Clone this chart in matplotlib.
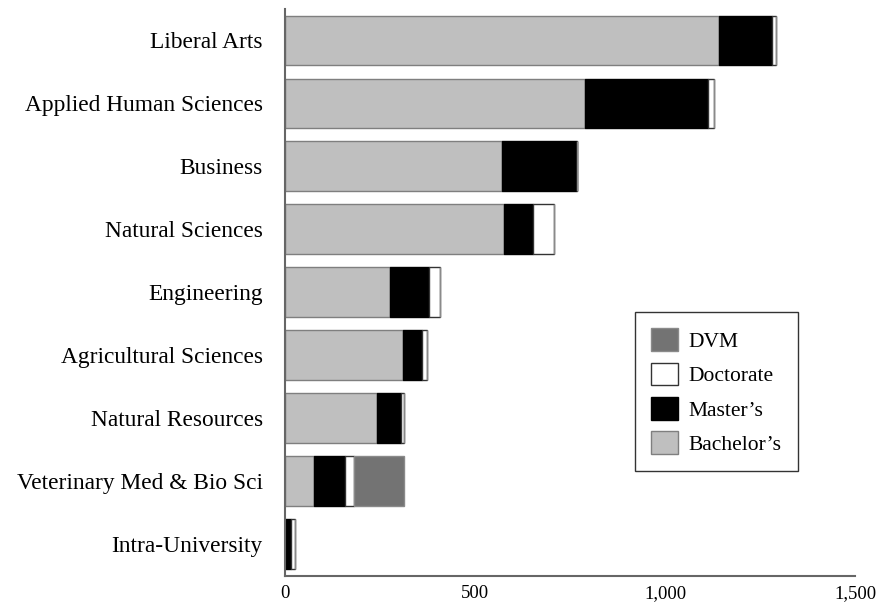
import matplotlib.pyplot as plt
import numpy as np
from matplotlib.ticker import FuncFormatter

plt.rcParams['font.family'] = ['Liberation Serif', 'DejaVu Serif']

colleges = ['Liberal Arts', 'Applied Human Sciences', 'Business', 'Natural Sciences',
            'Engineering', 'Agricultural Sciences', 'Natural Resources',
            'Veterinary Med & Bio Sci', 'Intra-University']
bachelors = [1142, 789, 571, 577, 277, 311, 242, 76, 0]
masters = [140, 323, 197, 75, 102, 50, 62, 83, 15]
doctorate = [10, 18, 0, 57, 30, 13, 10, 22, 10]
dvm = [0, 0, 0, 0, 0, 0, 0, 133, 0]

fig = plt.figure(figsize=(8.77, 6.06), dpi=100)
ax = fig.add_axes([285 / 877, 1 - 575.5 / 606, 570 / 877, 566.5 / 606])

y = np.arange(len(colleges))
h = 0.79
b = np.array(bachelors)
m = np.array(masters)
d = np.array(doctorate)
v = np.array(dvm)

ax.barh(y, b, h, color='#bfbfbf', edgecolor='#7f7f7f', linewidth=1, label="Bachelor’s")
ax.barh(y, m, h, left=b, color='black', edgecolor='black', linewidth=1, label="Master’s")
ax.barh(y, d, h, left=b + m, color='white', edgecolor='#333333', linewidth=1, label='Doctorate')
ax.barh(y, v, h, left=b + m + d, color='#737373', edgecolor='#8a8a8a', linewidth=1, label='DVM')

ax.set_ylim(len(colleges) - 0.5, -0.5)
ax.set_xlim(0, 1500)
ax.set_yticks(y)
ax.set_yticklabels(colleges, fontsize=16.8)
ax.set_xticks([0, 500, 1000, 1500])
ax.xaxis.set_major_formatter(FuncFormatter(lambda x, p: f'{int(x):,}'))
ax.tick_params(axis='x', length=0, labelsize=13.5, pad=7)
ax.tick_params(axis='y', length=0, pad=16)
for s in ['top', 'right']:
    ax.spines[s].set_visible(False)
for s in ['left', 'bottom']:
    ax.spines[s].set_color('#666666')
    ax.spines[s].set_linewidth(1.5)

handles, labels = ax.get_legend_handles_labels()
leg = ax.legend(handles[::-1], labels[::-1], loc='upper left', bbox_to_anchor=(0.614, 0.465),
                borderaxespad=0, fontsize=15.5, fancybox=False, frameon=True,
                handlelength=1.25, handleheight=1.25, borderpad=0.75, labelspacing=0.5,
                handletextpad=0.5)
leg.get_frame().set_edgecolor('black')
leg.get_frame().set_linewidth(1)

fig.savefig('out.png', dpi=100)
